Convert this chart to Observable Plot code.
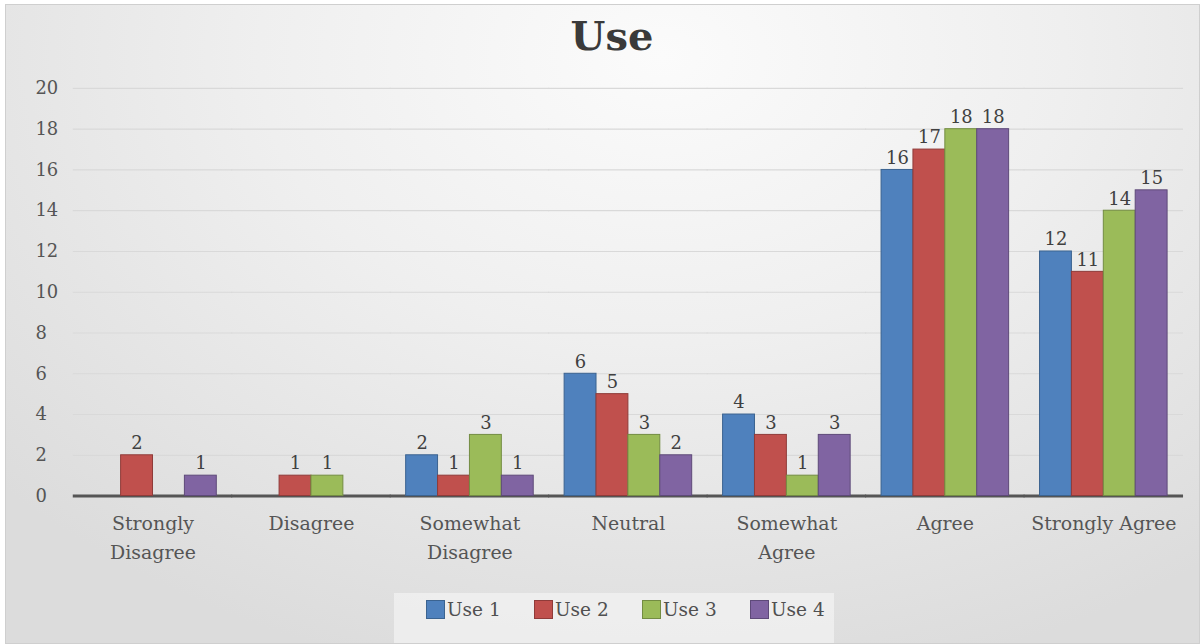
<!DOCTYPE html>
<html>
<head>
<meta charset="utf-8">
<script src="https://cdn.jsdelivr.net/npm/d3@7"></script>
<script src="https://cdn.jsdelivr.net/npm/@observablehq/plot@0.6"></script>
<style>
  html, body { margin: 0; padding: 0; background: #ffffff; }
  #frame {
    position: absolute; left: 5px; top: 4px; width: 1195px; height: 640px;
    box-sizing: border-box; border: 1px solid #cfcfcf;
    background: radial-gradient(ellipse 75% 100% at 55% 8%, #fbfbfb 0%, #efefef 45%, #dcdcdc 100%);
    overflow: hidden;
  }
  #title {
    position: absolute; left: 0; top: 7px; width: 1212px; text-align: center;
    font-family: "DejaVu Serif", serif; font-weight: bold; font-size: 40px; color: #3a3a3a;
  }
  #chart { position: absolute; left: -5px; top: 61px; }
  #legend {
    position: absolute; left: 388px; top: 588px; width: 440px; height: 60px;
    background: rgba(240,240,240,0.85);
    font-family: "DejaVu Serif", serif; font-size: 18.5px; color: #505050;
  }
  .item { position: absolute; top: 6px; display: flex; align-items: center; }
  .sw { width: 19px; height: 19px; box-sizing: border-box; margin-right: 2px; }
</style>
</head>
<body>
<div id="frame">
  <div id="title">Use</div>
  <div id="chart"></div>
  <div id="legend"></div>
</div>
<script>
const categories = ["Strongly Disagree", "Disagree", "Somewhat Disagree", "Neutral", "Somewhat Agree", "Agree", "Strongly Agree"];
const categoryLabels = ["Strongly\nDisagree", "Disagree", "Somewhat\nDisagree", "Neutral", "Somewhat\nAgree", "Agree", "Strongly Agree"];
const seriesNames = ["Use 1", "Use 2", "Use 3", "Use 4"];
const use1 = [0, 0, 2, 6, 4, 16, 12];
const use2 = [2, 1, 1, 5, 3, 17, 11];
const use3 = [0, 1, 3, 3, 1, 18, 14];
const use4 = [1, 0, 1, 2, 3, 18, 15];
const yTicks = [0, 2, 4, 6, 8, 10, 12, 14, 16, 18, 20];
const colors = ["#4F81BD", "#C0504D", "#9BBB59", "#8064A2"];
const strokes = ["#3b6390", "#8f3b39", "#738c42", "#5e4a79"];

const seriesValues = [use1, use2, use3, use4];
const data = [];
categories.forEach((c, i) => {
  seriesNames.forEach((s, j) => data.push({category: c, series: s, value: seriesValues[j][i]}));
});
const labelOf = new Map(categories.map((c, i) => [c, categoryLabels[i]]));
const strokeOf = new Map(seriesNames.map((s, j) => [s, strokes[j]]));

const font = "DejaVu Serif, serif";

const plot = Plot.plot({
  width: 1202,
  height: 512,
  marginLeft: 72,
  marginRight: 16,
  marginTop: 22,
  marginBottom: 81,
  style: {background: "transparent", fontFamily: font, fontSize: "18px", color: "#555"},
  fx: {domain: categories, paddingInner: 0.18, paddingOuter: 0.09, label: null, tickFormat: d => labelOf.get(d), tickSize: 0, tickPadding: 10},
  x: {domain: seriesNames, padding: 0, axis: null},
  y: {domain: [0, 20], axis: null},
  color: {domain: seriesNames, range: colors},
  marks: [
    Plot.ruleY(yTicks, {y: d => d, stroke: "#d9d9d9", strokeWidth: 1.2, insetLeft: -15, insetRight: -15}),
    Plot.ruleY([0], {stroke: "#555", strokeWidth: 3, insetLeft: -15, insetRight: -15}),
    Plot.barY(data, {fx: "category", x: "series", y: "value", fill: "series", stroke: d => strokeOf.get(d.series), strokeWidth: 1}),
    Plot.text(data.filter(d => d.value > 0), {fx: "category", x: "series", y: "value", text: d => String(d.value), dy: -12, fill: "#404040", fontSize: 18}),
    Plot.axisFx({anchor: "bottom", tickSize: 0, tickPadding: 14, fontSize: 19, fill: "#555", label: null, lineHeight: 1.5, tickFormat: d => labelOf.get(d)}),
    Plot.axisY({ticks: yTicks, tickSize: 0, tickPadding: 53, textAnchor: "start", fontSize: 18, fill: "#555", label: null, tickFormat: d => String(d)})
  ]
});
document.getElementById("chart").appendChild(plot);

const legend = document.getElementById("legend");
seriesNames.forEach((s, j) => {
  const it = document.createElement("div");
  it.className = "item";
  it.style.left = (32 + j * 108) + "px";
  const sw = document.createElement("div");
  sw.className = "sw";
  sw.style.background = colors[j];
  sw.style.border = "1px solid " + strokes[j];
  const tx = document.createElement("span");
  tx.textContent = s;
  it.appendChild(sw); it.appendChild(tx);
  legend.appendChild(it);
});
</script>
</body>
</html>
